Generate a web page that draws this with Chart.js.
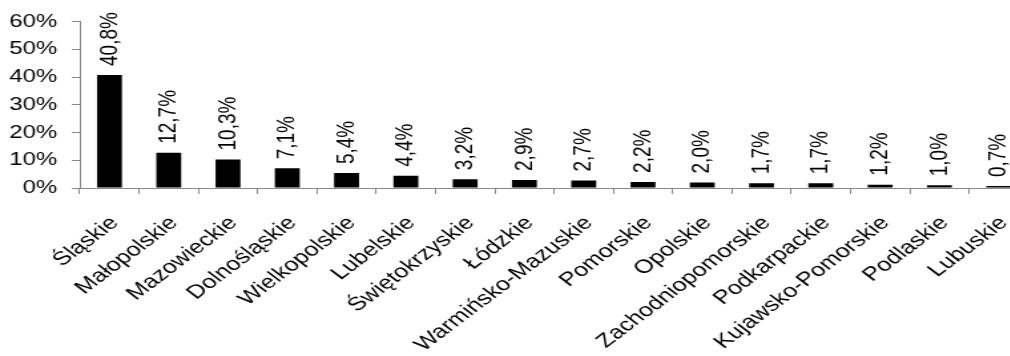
<!DOCTYPE html>
<html>
<head>
<meta charset="utf-8">
<script src="https://cdn.jsdelivr.net/npm/chart.js@4"></script>
<style>
  html, body { margin: 0; padding: 0; background: #fff; overflow: hidden; }
  /* the original picture is stretched sideways, so stretch the chart too */
  #chart { transform: scaleX(1.33); transform-origin: 0 0; }
</style>
</head>
<body>
<canvas id="chart" width="785" height="356"></canvas>
<script>
const regions = ['Śląskie', 'Małopolskie', 'Mazowieckie', 'Dolnośląskie', 'Wielkopolskie', 'Lubelskie',
  'Świętokrzyskie', 'Łódzkie', 'Warmińsko-Mazuskie', 'Pomorskie', 'Opolskie', 'Zachodniopomorskie',
  'Podkarpackie', 'Kujawsko-Pomorskie', 'Podlaskie', 'Lubuskie'];
const shares = [40.8, 12.7, 10.3, 7.1, 5.4, 4.4, 3.2, 2.9, 2.7, 2.2, 2.0, 1.7, 1.7, 1.2, 1.0, 0.7];
const yTickLabels = ['0%', '10%', '20%', '30%', '40%', '50%', '60%'];

const FONT = '"Liberation Sans", Arial, sans-serif';
const AXIS_GRAY = '#888888';

// value labels written vertically above each bar
const valueLabels = {
  id: 'valueLabels',
  afterDatasetsDraw(chart) {
    const ctx = chart.ctx;
    const meta = chart.getDatasetMeta(0);
    ctx.save();
    ctx.font = '19px ' + FONT;
    ctx.fillStyle = '#000';
    ctx.textAlign = 'left';
    ctx.textBaseline = 'middle';
    meta.data.forEach((bar, i) => {
      ctx.save();
      ctx.translate(bar.x, bar.y - 9);
      ctx.rotate(-Math.PI / 2);
      ctx.fillText(shares[i].toFixed(1).replace('.', ',') + '%', 0, 0);
      ctx.restore();
    });
    ctx.restore();
  }
};

const ctx = document.getElementById('chart').getContext('2d');
new Chart(ctx, {
  type: 'bar',
  data: {
    labels: regions,
    datasets: [{
      data: shares,
      backgroundColor: '#000',
      borderWidth: 0,
      categoryPercentage: 1,
      barPercentage: 0.42
    }]
  },
  options: {
    responsive: false,
    animation: false,
    layout: { padding: { top: 18, right: 0, bottom: 0, left: 0 } },
    plugins: {
      legend: { display: false },
      tooltip: { enabled: false }
    },
    scales: {
      x: {
        grid: { drawOnChartArea: false, offset: true, tickLength: 6, color: AXIS_GRAY },
        border: { color: AXIS_GRAY },
        ticks: {
          color: '#000',
          font: { family: FONT, size: 19 },
          minRotation: 45,
          maxRotation: 45,
          autoSkip: false,
          padding: 18,
          labelOffset: 4
        },
        afterFit(scale) { scale.height = 168; }
      },
      y: {
        min: 0,
        max: 60,
        grid: { drawOnChartArea: false, tickLength: 6, color: AXIS_GRAY },
        border: { color: AXIS_GRAY },
        ticks: {
          stepSize: 10,
          color: '#000',
          font: { family: FONT, size: 18 },
          padding: 11,
          callback: (v, i) => yTickLabels[i]
        },
        afterFit(scale) { scale.width = 60; }
      }
    }
  },
  plugins: [valueLabels]
});
</script>
</body>
</html>
